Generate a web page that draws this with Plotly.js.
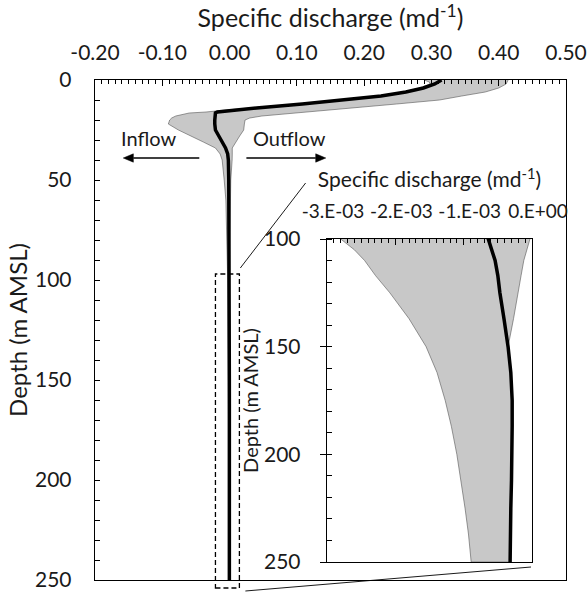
<!DOCTYPE html>
<html><head><meta charset="utf-8">
<script src="https://cdn.plot.ly/plotly-3.0.1.min.js"></script>
<style>html,body{margin:0;padding:0;background:#fff}</style>
</head><body><div id="chart" style="width:587px;height:594px"></div>
<script>
// Depth below surface (m AMSL)
const depth = [0,1,2,4,6,8,10,12,14,15,16,16.5,18,19,20,22,25,28,31,34,37,40,50,60,80,100,105,110,117,125,137,150,162,175,187,200,212,225,237,250];
// Mean specific discharge (m/d)
const meanQ = [0.315,0.311,0.305,0.288,0.262,0.225,0.172,0.108,0.040,0.008,-0.018,-0.021,-0.022,-0.022,-0.022,-0.022,-0.021,-0.016,-0.011,-0.006,-0.0028,-0.0018,-0.0012,-0.001,-0.0008,-0.00064,-0.00059,-0.00054,-0.0005,-0.00047,-0.00041,-0.00035,-0.00031,-0.00029,-0.00029,-0.00029,-0.0003,-0.00031,-0.00032,-0.00032];
// Lower and upper bound of the uncertainty band (m/d)
const lowQ = [0.289,0.297,0.298,0.283,0.257,0.220,0.166,0.102,0.033,-0.005,-0.035,-0.060,-0.080,-0.086,-0.089,-0.091,-0.076,-0.057,-0.039,-0.021,-0.014,-0.011,-0.008,-0.0055,-0.0038,-0.0028,-0.0026,-0.00245,-0.00229,-0.00208,-0.0018,-0.00155,-0.00139,-0.00127,-0.00118,-0.0011,-0.00104,-0.00098,-0.00093,-0.00089];
const highQ = [0.414,0.413,0.411,0.400,0.380,0.345,0.312,0.248,0.180,0.148,0.115,0.098,0.048,0.030,0.023,0.022,0.021,0.015,0.009,0.004,0.004,0.0038,0.0018,0.001,0.0004,-0.00003,-0.00008,-0.00012,-0.00016,-0.0002,-0.00027,-0.00035,-0.00031,-0.00029,-0.00029,-0.00029,-0.0003,-0.00031,-0.00032,-0.00032];

const mainXTickVals = [-0.2,-0.1,0,0.1,0.2,0.3,0.4,0.5];
const mainXTickText = ['-0.20','-0.10','0.00','0.10','0.20','0.30','0.40','0.50'];
const mainYTickVals = [0,50,100,150,200,250];
const insetXTickVals = [-0.003,-0.002,-0.001,0];
const insetXTickText = ['-3.E-03','-2.E-03','-1.E-03','0.E+00'];
const insetYTickVals = [100,150,200,250];

const mainXRange = [-0.2, 0.5];
const mainYRange = [250, 0];
const insetXRange = [-0.003, 0];
const insetYRange = [250, 100];

const bandX = highQ.concat(lowQ.slice().reverse());
const bandY = depth.concat(depth.slice().reverse());

const FONT = 'Lato, "Open Sans", "DejaVu Sans", sans-serif';
const BAND_FILL = '#c8c8c8';
const BAND_LINE = '#555555';

// helpers: main-axis data -> paper coords (for decorations extending beyond the axes)
const xp = v => (v - mainXRange[0]) / (mainXRange[1] - mainXRange[0]);
const yp = d => (mainYRange[0] - d) / (mainYRange[0] - mainYRange[1]);

// arrow helper (data coords of main axes): line + filled triangular head
function arrowShapes(tail, head, yv) {
  const dir = Math.sign(head - tail);
  const hl = 0.015, hw = 2.1;
  const base = head - dir * hl;
  return [
    {type: 'line', xref: 'x', yref: 'y', x0: tail, y0: yv, x1: base, y1: yv, line: {color: '#000', width: 1.6}},
    {type: 'path', xref: 'x', yref: 'y', path: `M ${head},${yv} L ${base},${yv - hw} L ${base},${yv + hw} Z`,
     fillcolor: '#000', line: {color: '#000', width: 0.5}}
  ];
}

const traces = [
  {x: bandX, y: bandY, xaxis: 'x', yaxis: 'y', type: 'scatter', mode: 'lines', fill: 'toself',
   fillcolor: BAND_FILL, line: {color: BAND_LINE, width: 0.6}, hoverinfo: 'skip'},
  {x: meanQ, y: depth, xaxis: 'x', yaxis: 'y', type: 'scatter', mode: 'lines',
   line: {color: '#000', width: 3.5}, hoverinfo: 'skip'},
  {x: bandX, y: bandY, xaxis: 'x2', yaxis: 'y2', type: 'scatter', mode: 'lines', fill: 'toself',
   fillcolor: BAND_FILL, line: {color: BAND_LINE, width: 0.6}, hoverinfo: 'skip'},
  {x: meanQ, y: depth, xaxis: 'x2', yaxis: 'y2', type: 'scatter', mode: 'lines',
   line: {color: '#000', width: 3.5}, hoverinfo: 'skip'}
];

const axLine = {showline: true, linecolor: '#000', linewidth: 1.3, mirror: true, showgrid: false, zeroline: false, fixedrange: true};

const layout = {
  width: 587, height: 594,
  margin: {l: 95, r: 21, t: 80, b: 14, pad: 0},
  paper_bgcolor: '#fff', plot_bgcolor: '#fff',
  showlegend: false,
  font: {family: FONT, size: 21, color: '#1a1a1a'},
  xaxis: Object.assign({}, axLine, {
    domain: [0, 1], anchor: 'y', side: 'top', range: mainXRange,
    tickmode: 'array', tickvals: mainXTickVals, ticktext: mainXTickText, tickangle: 0,
    ticks: 'inside', ticklen: 6, tickwidth: 1, tickcolor: '#000',
    minor: {ticks: 'inside', tickmode: 'linear', tick0: 0, dtick: 0.01, ticklen: 3.5, tickwidth: 1, tickcolor: '#000'},
    ticklabelstandoff: 10,
    title: {text: 'Specific discharge (md<sup>-1</sup>)', font: {size: 25}, standoff: 6}
  }),
  yaxis: Object.assign({}, axLine, {
    domain: [0, 1], anchor: 'x', range: mainYRange,
    tickmode: 'array', tickvals: mainYTickVals,
    ticks: 'inside', ticklen: 5, tickwidth: 1, tickcolor: '#000',
    minor: {ticks: 'inside', tickmode: 'linear', tick0: 0, dtick: 10, ticklen: 5, tickwidth: 1, tickcolor: '#000'},
    ticklabelstandoff: 18,
    title: {text: 'Depth (m AMSL)', font: {size: 24}, standoff: 0}
  }),
  xaxis2: Object.assign({}, axLine, {
    domain: [0.4926, 0.9278], anchor: 'y2', side: 'top', range: insetXRange,
    tickmode: 'array', tickvals: insetXTickVals, ticktext: insetXTickText, tickangle: 0,
    tickfont: {size: 19},
    ticks: 'inside', ticklen: 6, tickwidth: 1, tickcolor: '#000',
    minor: {ticks: 'inside', tickmode: 'linear', tick0: 0, dtick: 0.0001, ticklen: 3.5, tickwidth: 1, tickcolor: '#000'},
    ticklabelstandoff: 12, ticklabelshift: 6,
    title: {text: 'Specific discharge (md<sup>-1</sup>)', font: {size: 21}, standoff: 5}
  }),
  yaxis2: Object.assign({}, axLine, {
    domain: [0.036, 0.682], anchor: 'x2', range: insetYRange,
    tickmode: 'array', tickvals: insetYTickVals,
    ticks: 'outside', ticklen: 6, tickwidth: 1, tickcolor: '#000',
    minor: {ticks: 'inside', tickmode: 'linear', tick0: 0, dtick: 10, ticklen: 5, tickwidth: 1, tickcolor: '#000'},
    ticklabelstandoff: 15,
    title: {text: 'Depth (m AMSL)', font: {size: 20}, standoff: 0}
  }),
  shapes: [
    // dashed zoom box around the deep part of the profile
    {type: 'rect', xref: 'paper', yref: 'paper', x0: xp(-0.021), x1: xp(0.0146), y0: yp(254), y1: yp(97),
     line: {color: '#000', width: 1.3, dash: '5px,3px'}, fillcolor: 'rgba(0,0,0,0)'},
    // connector lines to inset
    {type: 'line', xref: 'paper', yref: 'paper', x0: xp(0.016), y0: yp(94), x1: xp(0.113), y1: yp(51.5),
     line: {color: '#000', width: 0.9}},
    {type: 'line', xref: 'paper', yref: 'paper', x0: xp(0.0235), y0: yp(255.5), x1: xp(0.448), y1: yp(243.5),
     line: {color: '#000', width: 0.9}}
  ].concat(arrowShapes(-0.045, -0.158, 39), arrowShapes(0.025, 0.143, 39)),
  annotations: [
    {xref: 'x', yref: 'y', x: -0.121, y: 29, text: 'Inflow', showarrow: false, font: {size: 20}},
    {xref: 'x', yref: 'y', x: 0.089, y: 29, text: 'Outflow', showarrow: false, font: {size: 20}}
  ]
};

Plotly.newPlot('chart', traces, layout, {staticPlot: true, displayModeBar: false});
</script>
</body></html>
